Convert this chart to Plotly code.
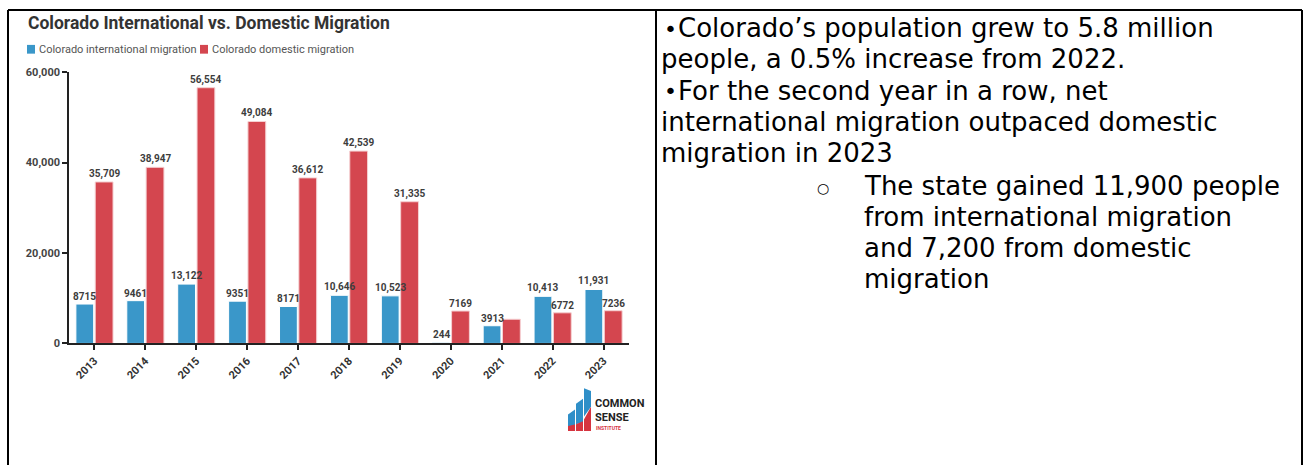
import plotly.graph_objects as go

W, H = 1304, 472

years = ["2013", "2014", "2015", "2016", "2017", "2018", "2019", "2020", "2021", "2022", "2023"]
international = [8715, 9461, 13122, 9351, 8171, 10646, 10523, 244, 3913, 10413, 11931]
domestic = [35709, 38947, 56554, 49084, 36612, 42539, 31335, 7169, 5350, 6772, 7236]
domestic_labeled = [True, True, True, True, True, True, True, True, False, True, True]

y_ticks = [0, 20000, 40000, 60000]
y_tick_text = ["0", "20,000", "40,000", "60,000"]

title_text = "Colorado International vs. Domestic Migration"
legend_names = ["Colorado international migration", "Colorado domestic migration"]

bullet_lines = [
    ("•", "Colorado’s population grew to 5.8 million", 676, 23),
    ("", "people, a 0.5% increase from 2022.", 659, 55),
    ("•", "For the second year in a row, net", 676, 87),
    ("", "international migration outpaced domestic", 659, 119),
    ("", "migration in 2023", 659, 151),
    ("○", "The state gained 11,900 people", 862, 185),
    ("", "from international migration", 862, 217),
    ("", "and 7,200 from domestic", 862, 249),
    ("", "migration", 862, 281),
]

BLUE = "#3a97c9"
RED = "#d4464f"

# layout geometry
X0, X1 = 69, 629
BARGAP, GROUPGAP = 0.24, 0.08


def fmt(v):
    return f"{v:,}" if v >= 10000 else str(v)


def px(x):
    return x / W


def py(y):
    return 1 - y / H


intl_text = [fmt(v) for v in international]
dom_text = [fmt(v) if show else "" for v, show in zip(domestic, domestic_labeled)]

fig = go.Figure()
fig.add_trace(go.Bar(
    x=years, y=international, name=legend_names[0],
    marker=dict(color=BLUE, line=dict(color="white", width=1)),
    hoverinfo="x+y",
))
fig.add_trace(go.Bar(
    x=years, y=domestic, name=legend_names[1],
    marker=dict(color=RED, line=dict(color="#f5d0d2", width=1)),
    hoverinfo="x+y",
))

fig.update_layout(
    width=W, height=H,
    margin=dict(l=0, r=0, t=0, b=0),
    paper_bgcolor="white", plot_bgcolor="white",
    barmode="group", bargap=BARGAP, bargroupgap=GROUPGAP,
    showlegend=False,
    font=dict(family="Roboto", color="#333"),
    xaxis=dict(
        type="category",
        domain=[px(X0), px(X1)], range=[-0.5, 10.5],
        showline=True, linecolor="#222", linewidth=1.5,
        ticks="outside", ticklen=5, tickcolor="#222", tickwidth=1.5,
        tickangle=-45, tickfont=dict(family="Roboto", size=11, color="#333", weight="bold"),
        showgrid=False, zeroline=False,
    ),
    yaxis=dict(
        domain=[py(347), py(68)], range=[0, 60000],
        showline=True, linecolor="#222", linewidth=1.5,
        ticks="outside", ticklen=5, tickcolor="#222", tickwidth=1.5,
        tickvals=y_ticks, ticktext=y_tick_text,
        tickfont=dict(family="Roboto", size=11, color="#444", weight="bold"),
        showgrid=False, zeroline=False,
    ),
)

annotations = []

# data labels (drawn as annotations so they sit above both bar series)
cat_w = (X1 - X0) / len(years)
slot = cat_w * (1 - BARGAP) / 2
shift = slot / 2
label_font = dict(family="Roboto", size=10, color="#3d3d3d", weight="bold")
for i, (v, t) in enumerate(zip(international, intl_text)):
    annotations.append(dict(x=i, y=v, xref="x", yref="y", text=t, showarrow=False,
                            xanchor="center", yanchor="bottom", xshift=-shift, yshift=0,
                            font=label_font))
for i, (v, t) in enumerate(zip(domestic, dom_text)):
    if t:
        annotations.append(dict(x=i, y=v, xref="x", yref="y", text=t, showarrow=False,
                                xanchor="center", yanchor="bottom", xshift=shift, yshift=0,
                                font=label_font))

shapes = []
# table borders
border = dict(color="black", width=2)
shapes.append(dict(type="line", xref="paper", yref="paper", x0=px(8), x1=px(1302), y0=py(4), y1=py(4), line=border))
shapes.append(dict(type="line", xref="paper", yref="paper", x0=px(8), x1=px(8), y0=py(4), y1=py(472), line=border))
shapes.append(dict(type="line", xref="paper", yref="paper", x0=px(656), x1=px(656), y0=py(4), y1=py(472), line=border))
shapes.append(dict(type="line", xref="paper", yref="paper", x0=px(1302), x1=px(1302), y0=py(4), y1=py(472), line=border))

# legend swatches
for x0, col in [(27, BLUE), (200, RED)]:
    shapes.append(dict(type="rect", xref="paper", yref="paper",
                       x0=px(x0), x1=px(x0 + 8), y0=py(49), y1=py(40),
                       fillcolor=col, line=dict(width=0)))


def path(points):
    return "M " + " L ".join(f"{px(x)},{py(y)}" for x, y in points) + " Z"


# logo
LB, LR = "#2f8fc8", "#d6343f"
shapes.append(dict(type="path", xref="paper", yref="paper", path=path([(568, 420), (575, 415), (575, 432), (568, 432)]), fillcolor=LB, line=dict(width=0)))
shapes.append(dict(type="path", xref="paper", yref="paper", path=path([(576, 409), (583, 404), (583, 428), (576, 430)]), fillcolor=LB, line=dict(width=0)))
shapes.append(dict(type="path", xref="paper", yref="paper", path=path([(584, 393), (591, 396), (591, 412), (584, 422)]), fillcolor=LB, line=dict(width=0)))
shapes.append(dict(type="path", xref="paper", yref="paper", path=path([(568, 432), (576, 430), (583, 427), (591, 412), (591, 437), (568, 437)]), fillcolor=LR, line=dict(width=0)))
shapes.append(dict(type="line", xref="paper", yref="paper", x0=px(575.5), x1=px(575.5), y0=py(415), y1=py(437), line=dict(color="white", width=1)))
shapes.append(dict(type="line", xref="paper", yref="paper", x0=px(583.5), x1=px(583.5), y0=py(404), y1=py(437), line=dict(color="white", width=1)))

annotations.append(dict(text=title_text, xref="paper", yref="paper", x=px(26), y=py(17),
                        xanchor="left", yanchor="middle", showarrow=False,
                        font=dict(family="Roboto", size=17.5, color="#333", weight="bold")))
for x0, name in [(37, legend_names[0]), (210, legend_names[1])]:
    annotations.append(dict(text=name, xref="paper", yref="paper", x=px(x0), y=py(44.5),
                            xanchor="left", yanchor="middle", showarrow=False,
                            font=dict(family="Roboto", size=11, color="#555")))
annotations.append(dict(text="COMMON", xref="paper", yref="paper", x=px(593), y=py(409),
                        xanchor="left", yanchor="middle", showarrow=False,
                        font=dict(family="Roboto", size=11, color="#222", weight="bold")))
annotations.append(dict(text="SENSE", xref="paper", yref="paper", x=px(593), y=py(423),
                        xanchor="left", yanchor="middle", showarrow=False,
                        font=dict(family="Roboto", size=11, color="#222", weight="bold")))
annotations.append(dict(text="INSTITUTE", xref="paper", yref="paper", x=px(594), y=py(434),
                        xanchor="left", yanchor="middle", showarrow=False,
                        font=dict(family="Roboto", size=5, color=LR, weight="bold")))

for bullet, txt, x0, y0 in bullet_lines:
    annotations.append(dict(text=txt, xref="paper", yref="paper", x=px(x0), y=py(y0),
                            xanchor="left", yanchor="middle", showarrow=False,
                            font=dict(family="DejaVu Sans", size=26, color="black")))
    if bullet == "•":
        annotations.append(dict(text="•", xref="paper", yref="paper", x=px(670), y=py(y0 + 1),
                                xanchor="center", yanchor="middle", showarrow=False,
                                font=dict(family="DejaVu Sans", size=22, color="black")))
    elif bullet:
        annotations.append(dict(text=bullet, xref="paper", yref="paper", x=px(823), y=py(y0 + 2),
                                xanchor="center", yanchor="middle", showarrow=False,
                                font=dict(family="DejaVu Sans", size=14, color="black")))

fig.update_layout(shapes=shapes, annotations=annotations)

fig.write_html("out.html", config={"displayModeBar": False},
               post_script="document.body.style.margin='0';")
